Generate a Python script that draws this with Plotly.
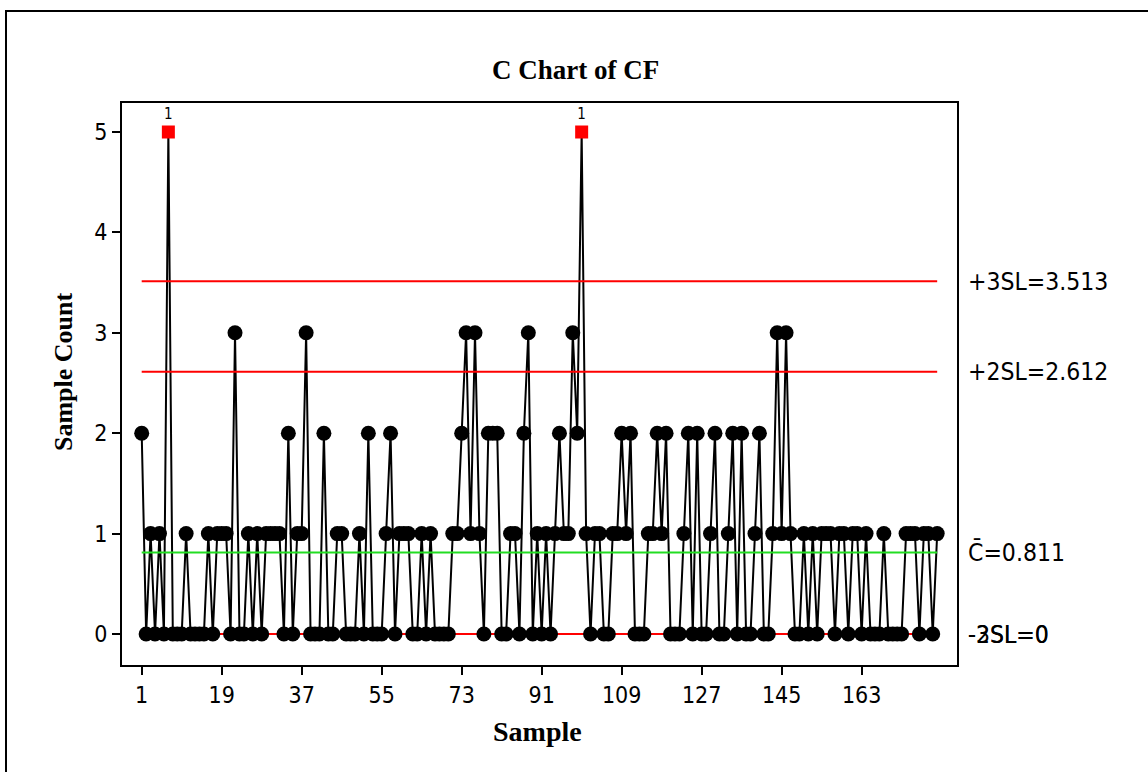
import plotly.graph_objects as go

# Figure geometry (pixels) of the plotting frame
W, H = 1148, 772
L, R, T, B = 122, 957, 103, 665

# Defect counts per sample
counts = [
    2, 0, 1, 0, 1, 0, 5, 0, 0, 0,
    1, 0, 0, 0, 0, 1, 0, 1, 1, 1,
    0, 3, 0, 0, 1, 0, 1, 0, 1, 1,
    1, 1, 0, 2, 0, 1, 1, 3, 0, 0,
    0, 2, 0, 0, 1, 1, 0, 0, 0, 1,
    0, 2, 0, 0, 0, 1, 2, 0, 1, 1,
    1, 0, 0, 1, 0, 1, 0, 0, 0, 0,
    1, 1, 2, 3, 1, 3, 1, 0, 2, 2,
    2, 0, 0, 1, 1, 0, 2, 3, 0, 1,
    0, 1, 0, 1, 2, 1, 1, 3, 2, 5,
    1, 0, 1, 1, 0, 0, 1, 1, 2, 1,
    2, 0, 0, 0, 1, 1, 2, 1, 2, 0,
    0, 0, 1, 2, 0, 2, 0, 0, 1, 2,
    0, 0, 1, 2, 0, 2, 0, 0, 1, 2,
    0, 0, 1, 3, 1, 3, 1, 0, 0, 1,
    0, 1, 0, 1, 1, 1, 0, 1, 1, 0,
    1, 1, 0, 1, 0, 0, 0, 1, 0, 0,
    0, 0, 1, 1, 1, 0, 1, 1, 0, 1,
]
samples = list(range(1, len(counts) + 1))
x_ticks = [1, 19, 37, 55, 73, 91, 109, 127, 145, 163]
y_ticks = [0, 1, 2, 3, 4, 5]

# Control limits for a C chart
cbar = sum(counts) / len(counts)
sd = cbar ** 0.5
ucl3 = cbar + 3 * sd
ucl2 = cbar + 2 * sd
lcl3 = max(0.0, cbar - 3 * sd)
lcl2 = max(0.0, cbar - 2 * sd)


def px(xp):
    return (xp - L) / (R - L)


def py(yp):
    return (B - yp) / (B - T)


SANS = "DejaVu Sans Condensed, DejaVu Sans, Verdana, sans-serif"
SERIF = "Liberation Serif, Times New Roman, serif"

fig = go.Figure()

# connecting line
fig.add_trace(go.Scatter(x=samples, y=counts, mode="lines",
                         line=dict(color="black", width=2),
                         hoverinfo="skip", showlegend=False))

# limit lines
first, last = samples[0], samples[-1]
for val, col in [(ucl3, "#ff0000"), (ucl2, "#ff0000"), (lcl3, "#ff0000"),
                 (lcl2, "#ff0000"), (cbar, "#22dd22")]:
    fig.add_trace(go.Scatter(x=[first, last], y=[val, val], mode="lines",
                             line=dict(color=col, width=2),
                             hoverinfo="skip", showlegend=False))

# in-control points
ix = [s for s, c in zip(samples, counts) if c <= ucl3]
iy = [c for c in counts if c <= ucl3]
fig.add_trace(go.Scatter(x=ix, y=iy, mode="markers",
                         marker=dict(symbol="circle", size=15, color="black"),
                         showlegend=False))

# out-of-control points (beyond +3SL)
ox = [s for s, c in zip(samples, counts) if c > ucl3]
oy = [c for c in counts if c > ucl3]
fig.add_trace(go.Scatter(x=ox, y=oy, mode="markers+text",
                         marker=dict(symbol="square", size=13, color="#ff0000"),
                         text=["1"] * len(ox), textposition="top center",
                         textfont=dict(family=SANS, size=15, color="black"),
                         showlegend=False))

annotations = []
# limit labels
lab_x = px(966)
for txt, val in [(f"+3SL={ucl3:.3f}", ucl3), (f"+2SL={ucl2:.3f}", ucl2),
                 (f"C\u0304={cbar:.3f}", cbar),
                 (f"-3SL={lcl3:g}", lcl3), (f"-2SL={lcl2:g}", lcl2)]:
    annotations.append(dict(x=lab_x, xref="paper", y=val, yref="y",
                            text=txt, showarrow=False, xanchor="left",
                            yanchor="middle",
                            font=dict(family=SANS, size=24.5, color="black")))

annotations.append(dict(x=px(575), y=py(70), xref="paper", yref="paper",
                        xanchor="center", yanchor="middle",
                        text="<b>C Chart of CF</b>", showarrow=False,
                        font=dict(family=SERIF, size=27, color="black")))
annotations.append(dict(x=px(537), y=py(731), xref="paper", yref="paper",
                        xanchor="center", yanchor="middle",
                        text="<b>Sample</b>", showarrow=False,
                        font=dict(family=SERIF, size=28, color="black")))
annotations.append(dict(x=px(63), y=py(372), xref="paper", yref="paper",
                        xanchor="center", yanchor="middle",
                        text="<b>Sample Count</b>", showarrow=False,
                        textangle=-90,
                        font=dict(family=SERIF, size=26, color="black")))

fig.update_layout(
    width=W, height=H,
    margin=dict(l=L, r=W - R, t=T, b=H - B, pad=0),
    paper_bgcolor="white", plot_bgcolor="white",
    annotations=annotations,
    shapes=[dict(type="rect", xref="paper", yref="paper",
                 x0=px(6), x1=px(1160), y0=py(790), y1=py(11),
                 line=dict(color="black", width=2), layer="below")],
    xaxis=dict(range=[1 - 19.7 / 4.444, 1 + 815.3 / 4.444],
               tickvals=x_ticks, ticktext=[str(v) for v in x_ticks],
               ticks="outside", ticklen=8, tickwidth=1.5, tickcolor="black",
               showline=True, mirror=True, linecolor="black", linewidth=2,
               showgrid=False, zeroline=False,
               tickfont=dict(family=SANS, size=23, color="black")),
    yaxis=dict(range=[-31 / 100.4, 5 + 29 / 100.4],
               tickvals=y_ticks, ticks="outside", ticklen=8, tickwidth=1.5,
               tickcolor="black",
               showline=True, mirror=True, linecolor="black", linewidth=2,
               showgrid=False, zeroline=False,
               tickfont=dict(family=SANS, size=23, color="black")),
)

fig.write_html("out.html")
